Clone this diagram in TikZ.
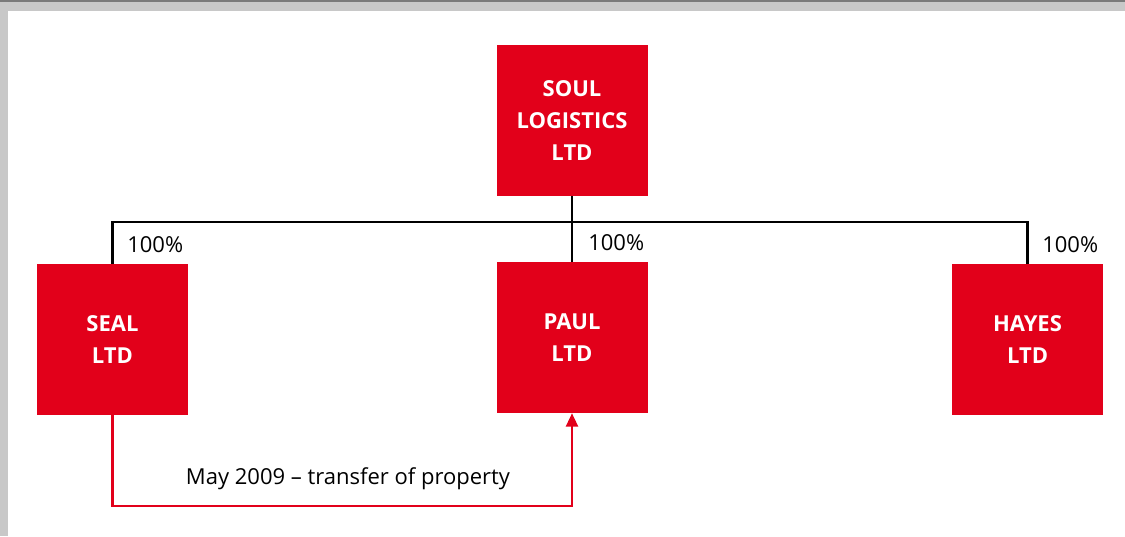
\documentclass[tikz,border=0pt]{standalone}
\usepackage{fontspec}
\setmainfont{Open Sans}
\usetikzlibrary{arrows.meta}
\definecolor{cred}{HTML}{E2001A}
\definecolor{cgray}{HTML}{C8C8C8}
\definecolor{cdark}{HTML}{7A7A7A}
\tikzset{
  company/.style={fill=cred, text=white, font=\fontsize{16.5}{24}\selectfont\bfseries, align=center, minimum width=113.25pt, minimum height=113.25pt, inner sep=0pt},
  pct/.style={font=\fontsize{16.5}{18}\selectfont, inner sep=0pt},
  own/.style={draw=black, line width=1.6pt},
  transfer/.style={draw=cred, line width=1.7pt, -{Triangle[length=10pt,width=9pt]}},
}
\begin{document}
\begin{tikzpicture}[x=0.75pt,y=-0.75pt]
\useasboundingbox (0,0) rectangle (1125,536);
\fill[cgray] (0,0) rectangle (1125,11);
\fill[cgray] (0,0) rectangle (8,536);
\fill[cdark] (0,0) rectangle (1125,1.5);
\node[company] (soul) at (572,120.5) {SOUL\\LOGISTICS\\LTD};
\node[company] (seal) at (112.5,339.5) {SEAL\\LTD};
\node[company] (paul) at (572,337.5) {PAUL\\LTD};
\node[company] (hayes) at (1027.5,339.5) {HAYES\\LTD};
\coordinate (bar) at (572,222);
\draw[own] (soul.south) -- (bar);
\draw[own] (seal.north) -- (seal.north |- bar) -- (hayes.north |- bar) -- (hayes.north);
\draw[own] (bar) -- (paul.north);
\node[pct, anchor=west] (p1) at (127,245) {100\%};
\node[pct, anchor=west] (p2) at (588,243) {100\%};
\node[pct, anchor=west] (p3) at (1042,245) {100\%};
\coordinate (turn) at (112.5,506);
\draw[transfer] (seal.south) -- (turn) -- (turn -| paul.south) -- (paul.south);
\node[pct] (lbl) at (348,479) {May 2009 – transfer of property};
\end{tikzpicture}
\end{document}
